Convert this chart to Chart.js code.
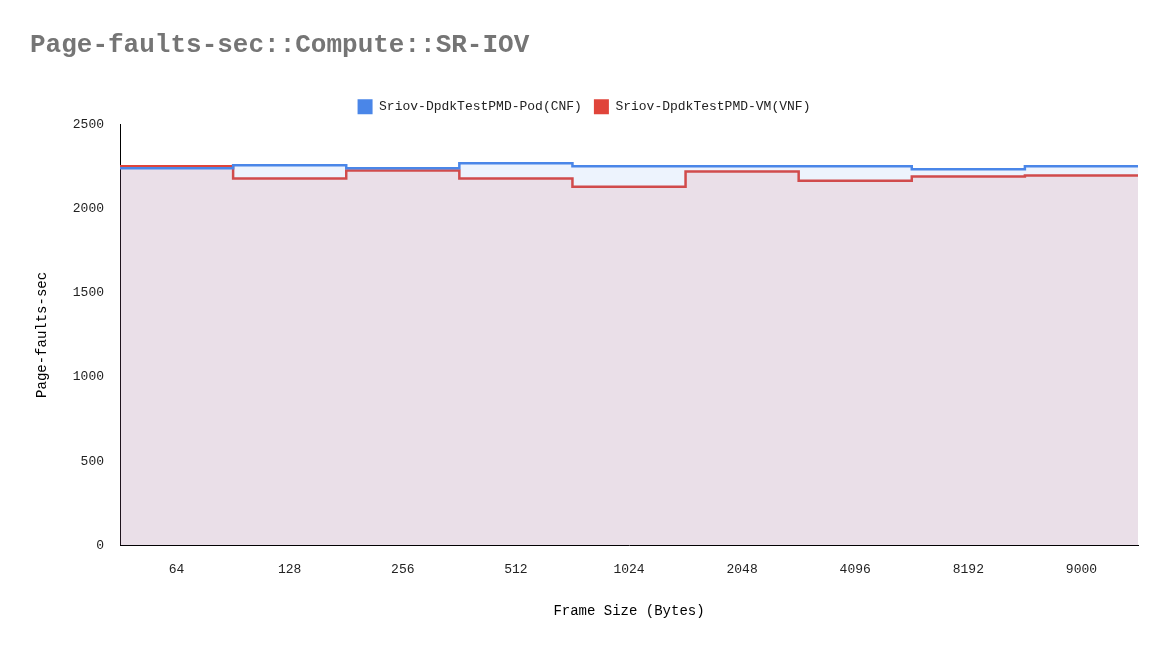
<!DOCTYPE html>
<html><head><meta charset="utf-8">
<script src="https://cdn.jsdelivr.net/npm/chart.js@4"></script>
<style>html,body{margin:0;background:#fff}#w{width:1170px;height:654px}</style>
</head><body><div id="w"><canvas id="c"></canvas></div>
<script>
const categories=["64","128","256","512","1024","2048","4096","8192","9000"];
const podValues=[2238,2257,2238,2269,2250,2250,2250,2232,2250];
const vmValues=[2250,2178,2226,2178,2129,2220,2165,2190,2196];
const yTicks=[0,500,1000,1500,2000,2500];
function pts(v){const p=v.map((y,i)=>({x:i,y}));p.unshift({x:-0.5,y:v[0]});p.push({x:v.length-0.5,y:v[v.length-1]});return p;}
const mono="'Liberation Mono','DejaVu Sans Mono',monospace";
new Chart(document.getElementById('c'),{type:'line',
data:{datasets:[
{label:'Sriov-DpdkTestPMD-Pod(CNF)',data:pts(podValues),borderColor:'#4a86e8',backgroundColor:'rgba(74,134,232,0.1)',fill:'origin',stepped:'middle',pointRadius:0,borderWidth:2.5},
{label:'Sriov-DpdkTestPMD-VM(VNF)',data:pts(vmValues),borderColor:'#e0443a',backgroundColor:'rgba(219,68,55,0.12)',fill:'origin',stepped:'middle',pointRadius:0,borderWidth:2.5}]},
options:{responsive:true,maintainAspectRatio:false,animation:false,
layout:{padding:{left:30,right:32,top:30,bottom:30}},
plugins:{title:{display:true,text:'Page-faults-sec::Compute::SR-IOV',align:'start',color:'#757575',font:{family:mono,size:26,weight:'bold'},padding:{bottom:26}},
legend:{labels:{generateLabels:ch=>ch.data.datasets.map((d,i)=>({text:d.label,fillStyle:d.borderColor,strokeStyle:d.borderColor,lineWidth:0,datasetIndex:i,fontColor:'#222'})),boxWidth:15,boxHeight:15,color:'#222',font:{family:mono,size:13},padding:12},},tooltip:{enabled:false}},
scales:{x:{type:'linear',min:-0.5,max:categories.length-0.5,afterBuildTicks:a=>{a.ticks=categories.map((_,i)=>({value:i}));},
ticks:{callback:v=>categories[v],color:'#222',font:{family:mono,size:13},autoSkip:false,maxRotation:0,padding:8},
grid:{display:false},border:{color:'#000'},title:{display:true,text:'Frame Size (Bytes)',color:'#000',font:{family:mono,size:14},padding:{top:18}}},
y:{min:0,max:2500,afterBuildTicks:a=>{a.ticks=yTicks.map(v=>({value:v}));},ticks:{callback:v=>String(v),color:'#222',font:{family:mono,size:13},padding:8},
grid:{display:false},border:{color:'#000'},title:{display:true,text:'Page-faults-sec',color:'#000',font:{family:mono,size:14},padding:{bottom:14}}}}}});
</script></body></html>
